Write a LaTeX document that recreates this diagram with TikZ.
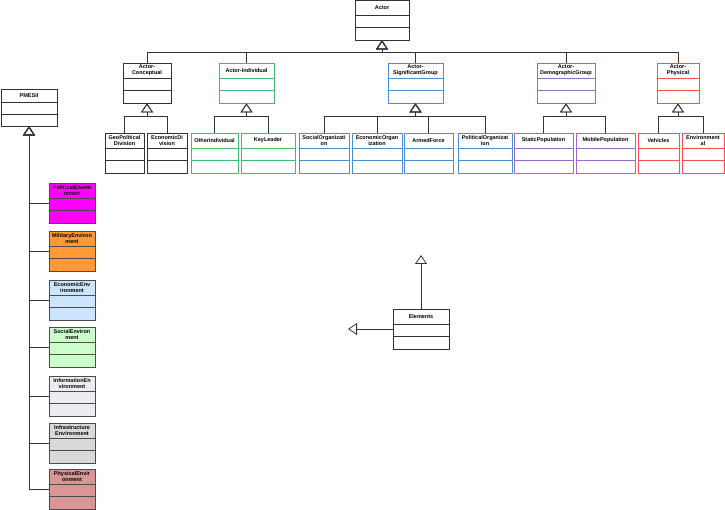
\documentclass[tikz,border=0pt]{standalone}
\usepackage{fontspec}
\setmainfont{Liberation Sans}
\usetikzlibrary{calc,arrows.meta}

\definecolor{grn}{HTML}{3DBE6E}
\definecolor{blu}{HTML}{4A90D0}
\definecolor{pur}{HTML}{9A6BC4}
\definecolor{rd}{HTML}{FF4D4D}
\definecolor{polfill}{HTML}{FF00FF}
\definecolor{milfill}{HTML}{FF9933}
\definecolor{ecofill}{HTML}{CCE5FF}
\definecolor{socfill}{HTML}{CCFFCC}
\definecolor{inffill}{HTML}{EEECF3}
\definecolor{infrafill}{HTML}{D9D9D9}
\definecolor{physfill}{HTML}{DA9694}

\tikzset{
	cls/.style={draw=#1, fill=white, line width=0.8pt, minimum height=40pt, inner sep=0pt,
		path picture={
			\draw[#1, line width=0.8pt] ($(path picture bounding box.north west)!0.375!(path picture bounding box.south west)$) -- ($(path picture bounding box.north east)!0.375!(path picture bounding box.south east)$);
			\draw[#1, line width=0.8pt] ($(path picture bounding box.north west)!0.675!(path picture bounding box.south west)$) -- ($(path picture bounding box.north east)!0.675!(path picture bounding box.south east)$);
		}},
	cls/.default=black!80,
	ttl/.style={anchor=north, minimum height=15pt, inner sep=0.5pt, align=center,
		font=\fontsize{5.5}{6.5}\selectfont\bfseries},
	inh/.style={-{Triangle[open,length=9pt,width=12pt]}, line width=0.8pt, draw=black!80}
}

\begin{document}
\begin{tikzpicture}[x=1pt,y=-1pt]

		\useasboundingbox (0,0) rectangle (725,510);

		\node (actor) at (382,20) [cls, minimum width=54pt, label={[ttl]north:Actor}] {};

		\node (conceptual) at (147,83) [cls, minimum width=48pt, label={[ttl]north:Actor-\\Conceptual}] {};
		\node (individual) at (246.5,83) [cls=grn, minimum width=55pt, label={[ttl]north:Actor-Individual}] {};
		\node (siggroup) at (415.5,83) [cls=blu, minimum width=55pt, label={[ttl]north:Actor-\\SignificantGroup}] {};
		\node (demographic) at (566,83) [cls=pur, minimum width=58pt, label={[ttl]north:Actor-\\DemographicGroup}] {};
		\node (physical) at (678,83) [cls=rd, minimum width=42pt, label={[ttl]north:Actor-\\Physical}] {};

		\node (geodiv) at (124.5,153) [cls, minimum width=39pt, label={[ttl]north:GeoPolitical\\Division}] {};
		\node (econdiv) at (167,153) [cls, minimum width=40pt, label={[ttl]north:EconomicDi\\vision}] {};
		\node (otherind) at (214.5,153) [cls=grn, minimum width=47pt, label={[ttl]north:OtherIndividual}] {};
		\node (keyleader) at (268,153) [cls=grn, minimum width=54pt, label={[ttl]north:KeyLeader}] {};
		\node (socialorg) at (324,153) [cls=blu, minimum width=50pt, label={[ttl]north:SocialOrganizati\\on}] {};
		\node (econorg) at (377,153) [cls=blu, minimum width=50pt, label={[ttl]north:EconomicOrgan\\ization}] {};
		\node (armed) at (428.5,153) [cls=blu, minimum width=49pt, label={[ttl]north:ArmedForce}] {};
		\node (polorg) at (485,153) [cls=blu, minimum width=54pt, label={[ttl]north:PoliticalOrganizat\\ion}] {};
		\node (static) at (543.5,153) [cls=pur, minimum width=59pt, label={[ttl]north:StaticPopulation}] {};
		\node (mobile) at (605.5,153) [cls=pur, minimum width=59pt, label={[ttl]north:MobilePopulation}] {};
		\node (vehicles) at (658.5,153) [cls=rd, minimum width=41pt, label={[ttl]north:Vehicles}] {};
		\node (environ) at (703,153) [cls=rd, minimum width=42pt, label={[ttl]north:Environment\\al}] {};

		\node (pmesii) at (29,107.5) [cls, minimum width=56pt, minimum height=37pt, label={[ttl, minimum height=13pt]north:PMESII}] {};

		\node (polenv) at (72,203) [cls={black!70}, fill=polfill, minimum width=46pt, label={[ttl]north:PoliticalEnviro\\nment}] {};
		\node (milenv) at (72,251) [cls={black!70}, fill=milfill, minimum width=46pt, label={[ttl]north:MilitaryEnviron\\ment}] {};
		\node (ecoenv) at (72,300) [cls={black!70}, fill=ecofill, minimum width=46pt, label={[ttl]north:EconomicEnv\\ironment}] {};
		\node (socenv) at (72,347) [cls={black!70}, fill=socfill, minimum width=46pt, label={[ttl]north:SocialEnviron\\ment}] {};
		\node (infenv) at (72,396) [cls={black!70}, fill=inffill, minimum width=46pt, label={[ttl]north:InformationEn\\vironment}] {};
		\node (infraenv) at (72,443) [cls={black!70}, fill=infrafill, minimum width=46pt, label={[ttl]north:Infrastructure\\Environment}] {};
		\node (physenv) at (72,489) [cls={black!70}, fill=physfill, minimum width=46pt, label={[ttl]north:PhysicalEnvir\\onment}] {};

		\node (elements) at (421,329) [cls, minimum width=56pt, label={[ttl]north:Elements}] {};
		\coordinate (upend) at (421,255);
		\coordinate (leftend) at (348,329);

		\foreach \c in {conceptual,individual,siggroup,demographic,physical}
			\draw[inh] (\c.north) -- ++(0,-10) -| (actor.south);

		\foreach \c in {geodiv,econdiv}
			\draw[inh] (\c.north) -- ++(0,-16) -| (conceptual.south);
		\foreach \c in {otherind,keyleader}
			\draw[inh] (\c.north) -- ++(0,-16) -| (individual.south);
		\foreach \c in {socialorg,econorg,armed,polorg}
			\draw[inh] (\c.north) -- ++(0,-16) -| (siggroup.south);
		\foreach \c in {static,mobile}
			\draw[inh] (\c.north) -- ++(0,-16) -| (demographic.south);
		\foreach \c in {vehicles,environ}
			\draw[inh] (\c.north) -- ++(0,-16) -| (physical.south);

		\foreach \c in {polenv,milenv,ecoenv,socenv,infenv,infraenv,physenv}
			\draw[inh] (\c.west) -| (pmesii.south);

		\draw[inh] (elements.north) -- (upend);
		\draw[inh] (elements.west) -- (leftend);

		\end{tikzpicture}
\end{document}
